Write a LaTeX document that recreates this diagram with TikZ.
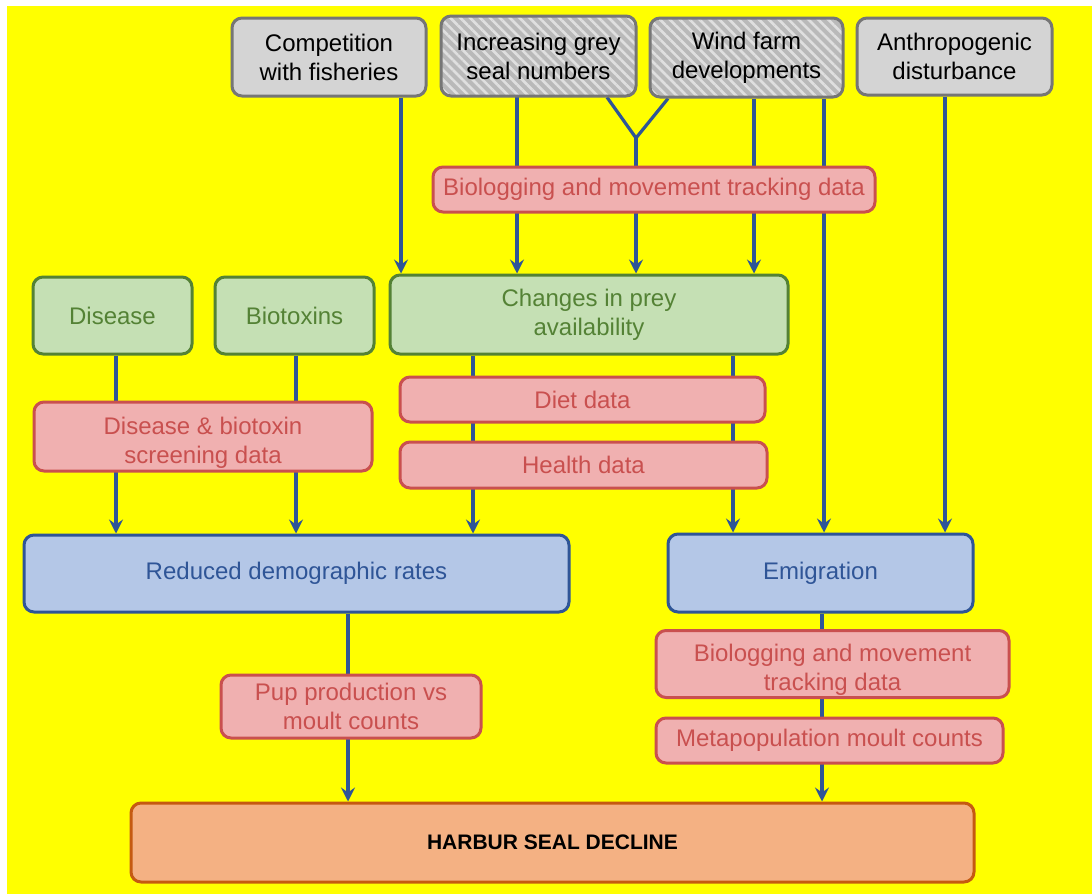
\documentclass[tikz,border=0pt]{standalone}
\usepackage{fontspec}
\setmainfont{Liberation Sans}
\usetikzlibrary{arrows.meta,patterns.meta}
\definecolor{Wire}{HTML}{2F5597}
\definecolor{Bg}{HTML}{FFFF00}
\definecolor{GreyFill}{HTML}{D4D4D4}
\definecolor{GreyLine}{HTML}{767676}
\definecolor{HatchDark}{HTML}{B9B9B9}
\definecolor{HatchLight}{HTML}{DFDFDF}
\definecolor{DataFill}{HTML}{F0B0B0}
\definecolor{DataLine}{HTML}{C9504F}
\definecolor{DriverFill}{HTML}{C5E0B4}
\definecolor{DriverLine}{HTML}{548235}
\definecolor{EffectFill}{HTML}{B4C7E7}
\definecolor{EffectLine}{HTML}{2F5597}
\definecolor{DeclFill}{HTML}{F4B183}
\definecolor{DeclLine}{HTML}{C55A11}
\pgfdeclarelayer{background}
\pgfdeclarelayer{wires}
\pgfsetlayers{background,wires,main}
\tikzset{
  box/.style={rounded corners=10pt,line width=3pt,align=center,inner sep=2pt,
    font=\fontsize{24}{29}\selectfont},
  greybox/.style={box,fill=GreyFill,draw=GreyLine,text=black},
  hatchbox/.style={box,draw=GreyLine,text=black,preaction={fill=HatchDark},
    pattern={Lines[angle=-45,distance=7pt,line width=2.6pt]},pattern color=HatchLight},
  databox/.style={box,fill=DataFill,draw=DataLine,text=DataLine},
  lowtext/.style={text height=58pt,text depth=5pt},
  driverbox/.style={box,fill=DriverFill,draw=DriverLine,text=DriverLine},
  effectbox/.style={box,fill=EffectFill,draw=EffectLine,text=EffectLine},
  declbox/.style={box,fill=DeclFill,draw=DeclLine,text=black,font=\bfseries\fontsize{21}{25}\selectfont},
  wire/.style={draw=Wire,line width=3.2pt},
  arr/.style={wire,-{Stealth[length=14pt,width=14pt,inset=5pt]}}
}
\begin{document}
\begin{tikzpicture}[x=1pt,y=-1pt]
  \useasboundingbox (0,0) rectangle (1092,894);
  \begin{pgfonlayer}{background}
    \fill[white] (0,0) rectangle (1092,894);
    \fill[Bg] (7,6) rectangle (1092,894);
  \end{pgfonlayer}

  \node[greybox,minimum width=194pt,minimum height=78pt] (comp) at (329,57) {Competition\\with fisheries};
  \node[hatchbox,minimum width=195pt,minimum height=80pt] (grey) at (538.5,56) {Increasing grey\\seal numbers};
  \node[hatchbox,minimum width=193pt,minimum height=79pt] (wind) at (746.5,57.5) {Wind farm\\developments};
  \node[greybox,minimum width=195pt,minimum height=77pt] (anth) at (954.5,56.5) {Anthropogenic\\disturbance};
  \node[databox,minimum width=442pt,minimum height=45pt] (biotop) at (654,189.5) {Biologging and movement tracking data};

  \node[driverbox,minimum width=159pt,minimum height=77pt] (dis) at (112.5,315.5) {Disease};
  \node[driverbox,minimum width=159pt,minimum height=77pt] (tox) at (294.5,315.5) {Biotoxins};
  \node[driverbox,minimum width=398pt,minimum height=79pt] (prey) at (589,314.5) {Changes in prey\\availability};
  \node[databox,lowtext,minimum width=338pt,minimum height=69pt] (screen) at (203,436.5) {Disease \& biotoxin\\screening data};
  \node[databox,minimum width=365pt,minimum height=45pt] (diet) at (582.5,399.5) {Diet data};
  \node[databox,minimum width=367pt,minimum height=46pt] (health) at (583.5,465) {Health data};

  \node[effectbox,minimum width=545pt,minimum height=77pt] (demo) at (296.5,573.5) {Reduced demographic rates};
  \node[effectbox,minimum width=305pt,minimum height=78pt] (emig) at (820.5,573) {Emigration};
  \node[databox,minimum width=260pt,minimum height=63pt] (pup) at (351,706.5) {Pup production vs\\moult counts};
  \node[databox,lowtext,minimum width=353pt,minimum height=64pt] (biolow) at (832.5,664) {Biologging and movement\\tracking data};
  \node[databox,minimum width=347pt,minimum height=45pt] (meta) at (829.5,740.5) {Metapopulation moult counts};
  \node[declbox,minimum width=843pt,minimum height=79pt] (decl) at (552.5,842.5) {HARBUR SEAL DECLINE};

  \coordinate (vjoin) at (636,138);
  \begin{pgfonlayer}{wires}
    \draw[arr] ([xshift=72pt]comp.south) -- ([xshift=72pt]comp.south |- prey.north);
    \draw[arr] ([xshift=-21.5pt]grey.south) -- ([xshift=-21.5pt]grey.south |- prey.north);
    \draw[wire] ([xshift=68.5pt]grey.south) -- (vjoin) -- ([xshift=-78.5pt]wind.south);
    \draw[arr] (vjoin) -- (vjoin |- prey.north);
    \draw[arr] ([xshift=7.5pt]wind.south) -- ([xshift=7.5pt]wind.south |- prey.north);
    \draw[arr] ([xshift=77.5pt]wind.south) -- ([xshift=77.5pt]wind.south |- emig.north);
    \draw[arr] ([xshift=-9.5pt]anth.south) -- ([xshift=-9.5pt]anth.south |- emig.north);
    \draw[arr] ([xshift=3.5pt]dis.south) -- ([xshift=3.5pt]dis.south |- demo.north);
    \draw[arr] ([xshift=1.5pt]tox.south) -- ([xshift=1.5pt]tox.south |- demo.north);
    \draw[arr] ([xshift=-116pt]prey.south) -- ([xshift=-116pt]prey.south |- demo.north);
    \draw[arr] ([xshift=144pt]prey.south) -- ([xshift=144pt]prey.south |- emig.north);
    \draw[arr] ([xshift=51.5pt]demo.south) -- ([xshift=51.5pt]demo.south |- decl.north);
    \draw[arr] ([xshift=1.5pt]emig.south) -- ([xshift=1.5pt]emig.south |- decl.north);
  \end{pgfonlayer}
\end{tikzpicture}
\end{document}
